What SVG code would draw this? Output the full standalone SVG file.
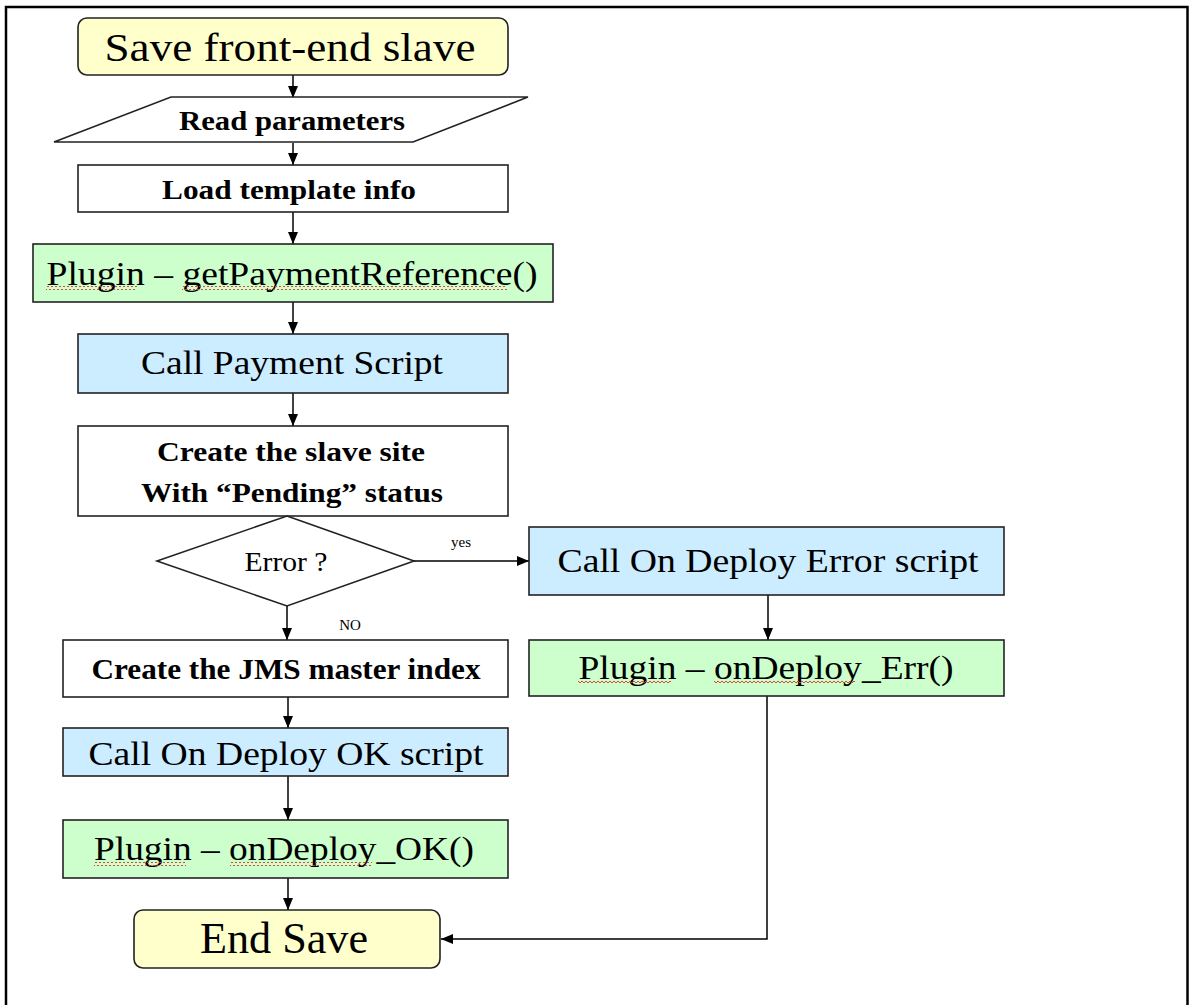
<svg xmlns="http://www.w3.org/2000/svg" width="1189" height="1005" viewBox="0 0 1189 1005">
<style>
.box{stroke:#222;stroke-width:1.6}
.y{fill:#FFFFCC}.g{fill:#CCFFCC}.b{fill:#CCECFF}.w{fill:#FFFFFF}
.t{font-family:"Liberation Serif","Times New Roman",serif;fill:#000;text-anchor:middle}
.bd{font-weight:bold}
.c{stroke:#000;stroke-width:1.5;fill:none}
.sq{fill:url(#sq)}
.sm{font-family:"Liberation Serif","Times New Roman",serif;font-size:15px;fill:#000;text-anchor:middle}
</style>
<defs>
<marker id="ah" viewBox="0 0 12 10" refX="12" refY="5" markerWidth="12" markerHeight="10" markerUnits="userSpaceOnUse" orient="auto">
<path d="M0,0 L12,5 L0,10 Z" fill="#000"/>
</marker>
<pattern id="sq" width="4" height="4" patternUnits="userSpaceOnUse">
<path d="M0 3 L2 1 L4 3" stroke="#E03030" stroke-width="0.9" fill="none"/>
</pattern>
</defs>
<rect width="1189" height="1005" fill="#fff"/>
<path d="M6,1005 V7 H1187.5 V1005" fill="none" stroke="#000" stroke-width="2.5"/>

<g id="connectors">
<path class="c" d="M293,75 V98" marker-end="url(#ah)"/>
<path class="c" d="M293,143 V165" marker-end="url(#ah)"/>
<path class="c" d="M293,212 V244" marker-end="url(#ah)"/>
<path class="c" d="M293,302 V334" marker-end="url(#ah)"/>
<path class="c" d="M293,393 V426" marker-end="url(#ah)"/>
<path class="c" d="M287,606 V640" marker-end="url(#ah)"/>
<path class="c" d="M414,561 H529" marker-end="url(#ah)"/>
<path class="c" d="M768,595 V640" marker-end="url(#ah)"/>
<path class="c" d="M288,697 V728" marker-end="url(#ah)"/>
<path class="c" d="M288,776 V820" marker-end="url(#ah)"/>
<path class="c" d="M288,878 V910" marker-end="url(#ah)"/>
<path class="c" d="M767,696 V939 H441" marker-end="url(#ah)"/>
<text class="sm" x="461" y="547">yes</text>
<text class="sm" x="350" y="630">NO</text>
</g>

<g id="start">
<rect class="box y" x="78" y="18" width="430" height="57" rx="9"/>
<text class="t" x="290" y="61" font-size="40" textLength="371" lengthAdjust="spacingAndGlyphs">Save front-end slave</text>
</g>

<g id="read">
<polygon class="box w" points="171,97 528,97 413,142 54,142" stroke-width="1.2"/>
<text class="t bd" x="292" y="130" font-size="28" textLength="226" lengthAdjust="spacingAndGlyphs">Read parameters</text>
</g>

<g id="load">
<rect class="box w" x="78" y="165" width="430" height="47"/>
<text class="t bd" x="289" y="199" font-size="28" textLength="254" lengthAdjust="spacingAndGlyphs">Load template info</text>
</g>

<g id="plugin-pay">
<rect class="box g" x="33" y="244" width="520" height="58"/>
<text class="t" x="292" y="285" font-size="33" textLength="491" lengthAdjust="spacingAndGlyphs">Plugin – getPaymentReference()</text>
<rect class="sq" x="46" y="286" width="91" height="4"/>
<rect class="sq" x="182" y="286" width="325" height="4"/>
</g>

<g id="call-pay">
<rect class="box b" x="78" y="334" width="430" height="59"/>
<text class="t" x="292" y="374" font-size="33" textLength="302" lengthAdjust="spacingAndGlyphs">Call Payment Script</text>
</g>

<g id="create-slave">
<rect class="box w" x="78" y="426" width="430" height="90"/>
<text class="t bd" x="291" y="461" font-size="28" textLength="268" lengthAdjust="spacingAndGlyphs">Create the slave site</text>
<text class="t bd" x="292" y="502" font-size="28" textLength="302" lengthAdjust="spacingAndGlyphs">With “Pending” status</text>
</g>

<g id="decision">
<polygon class="box w" points="287,516 414,561 287,606 157,561" stroke-width="1.2"/>
<text class="t" x="286" y="571" font-size="27" textLength="83" lengthAdjust="spacingAndGlyphs">Error ?</text>
</g>

<g id="call-err">
<rect class="box b" x="529" y="527" width="475" height="68"/>
<text class="t" x="768" y="572" font-size="33" textLength="421" lengthAdjust="spacingAndGlyphs">Call On Deploy Error script</text>
</g>

<g id="plugin-err">
<rect class="box g" x="529" y="640" width="475" height="56"/>
<text class="t" x="766" y="679" font-size="33" textLength="375" lengthAdjust="spacingAndGlyphs">Plugin – onDeploy_Err()</text>
<rect class="sq" x="578" y="681" width="93" height="4"/>
<rect class="sq" x="714" y="681" width="141" height="4"/>
</g>

<g id="jms">
<rect class="box w" x="63" y="640" width="445" height="57"/>
<text class="t bd" x="286" y="679" font-size="30" textLength="389" lengthAdjust="spacingAndGlyphs">Create the JMS master index</text>
</g>

<g id="call-ok">
<rect class="box b" x="63" y="728" width="445" height="48"/>
<text class="t" x="286" y="765" font-size="34" textLength="395" lengthAdjust="spacingAndGlyphs">Call On Deploy OK script</text>
</g>

<g id="plugin-ok">
<rect class="box g" x="63" y="820" width="445" height="58"/>
<text class="t" x="284" y="860" font-size="34" textLength="380" lengthAdjust="spacingAndGlyphs">Plugin – onDeploy_OK()</text>
<rect class="sq" x="94" y="862" width="92" height="4"/>
<rect class="sq" x="230" y="862" width="142" height="4"/>
</g>

<g id="end">
<rect class="box y" x="134" y="910" width="306" height="58" rx="9"/>
<text class="t" x="284" y="953" font-size="44" textLength="168" lengthAdjust="spacingAndGlyphs">End Save</text>
</g>
</svg>
